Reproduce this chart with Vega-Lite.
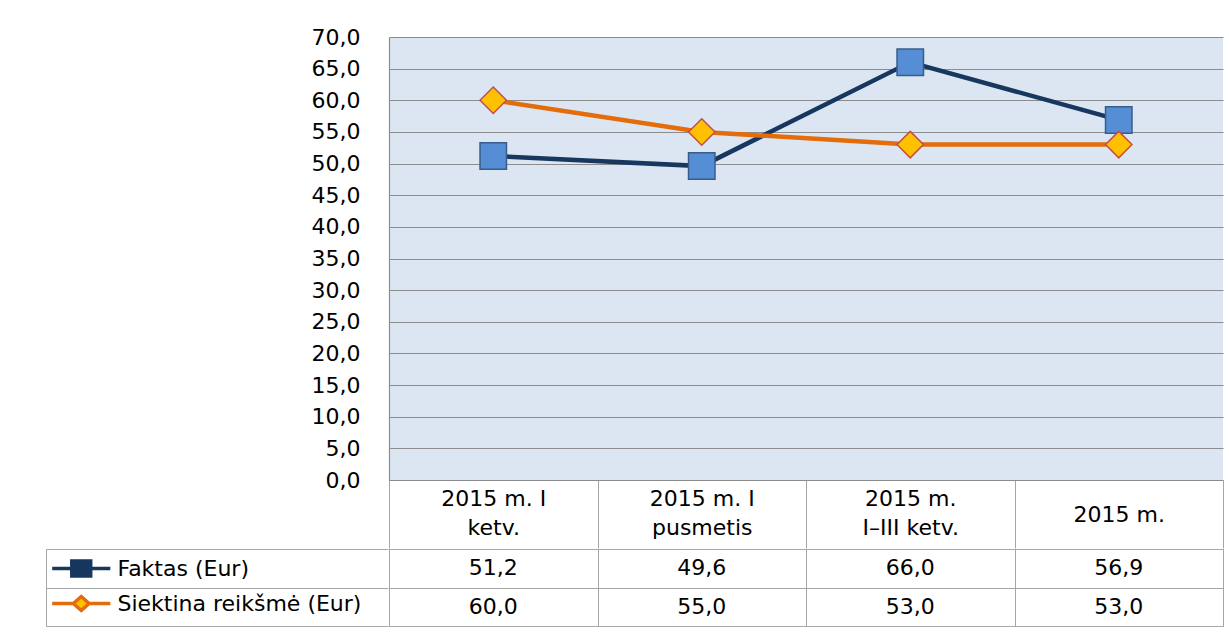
{
  "$schema": "https://vega.github.io/schema/vega-lite/v6.json",
  "background": "white",
  "padding": {"left": 46, "top": 26, "right": 0, "bottom": 0},
  "autosize": {"type": "pad"},
  "config": {
    "font": "DejaVu Sans",
    "locale": {"number": {"decimal": ",", "thousands": " ", "grouping": [3], "currency": ["", " €"]}},
    "view": {"stroke": null},
    "axis": {"labelFont": "DejaVu Sans", "labelFontSize": 22, "labelColor": "#000000"},
    "legend": {"labelFont": "DejaVu Sans", "labelFontSize": 22, "labelColor": "#000000", "labelLimit": 320}
  },
  "data": {"values": [
    {"period": "2015 m. I\nketv.", "series": "Faktas (Eur)", "value": 51.2},
    {"period": "2015 m. I\npusmetis", "series": "Faktas (Eur)", "value": 49.6},
    {"period": "2015 m.\nI–III ketv.", "series": "Faktas (Eur)", "value": 66.0},
    {"period": "2015 m.", "series": "Faktas (Eur)", "value": 56.9},
    {"period": "2015 m. I\nketv.", "series": "Siektina reikšmė (Eur)", "value": 60.0},
    {"period": "2015 m. I\npusmetis", "series": "Siektina reikšmė (Eur)", "value": 55.0},
    {"period": "2015 m.\nI–III ketv.", "series": "Siektina reikšmė (Eur)", "value": 53.0},
    {"period": "2015 m.", "series": "Siektina reikšmė (Eur)", "value": 53.0}
  ]},
  "columns": 2,
  "spacing": {"row": -2, "column": 0},
  "align": "each",
  "resolve": {"scale": {"color": "independent", "fill": "independent", "stroke": "independent", "shape": "independent"}},
  "concat": [
    {
      "width": 342, "height": 443,
      "mark": {"type": "point", "opacity": 0},
      "encoding": {
        "y": {"field": "value", "type": "quantitative", "scale": {"domain": [0, 70], "nice": false, "zero": true},
          "axis": {"orient": "right", "title": null, "values": [0,5,10,15,20,25,30,35,40,45,50,55,60,65,70], "format": ".1f",
            "labelAlign": "right", "labelBaseline": "middle", "labelPadding": -28, "ticks": false, "grid": false, "domain": false}}
      }
    },
    {
      "width": 834, "height": 443,
      "view": {"fill": "#DCE6F2", "stroke": null},
      "encoding": {
        "x": {"field": "period", "type": "nominal", "sort": null,
          "scale": {"type": "band", "paddingInner": 0, "paddingOuter": 0, "domain": ["2015 m. I\nketv.", "2015 m. I\npusmetis", "2015 m.\nI–III ketv.", "2015 m."]},
          "axis": {"title": null, "orient": "bottom", "tickBand": "extent", "tickSize": 68, "tickColor": "#a6a6a6", "tickWidth": 1,
            "domain": true, "domainColor": "#8c8c8c", "labelExpr": "split(datum.label, '\\n')",
            "labelPadding": {"condition": {"test": "indexof(datum.label, '\\n') < 0", "value": -34}, "value": -50},
            "labelBaseline": "middle", "labelLineHeight": 29, "labelLimit": 300, "labelAngle": 0, "grid": false}},
        "y": {"field": "value", "type": "quantitative", "scale": {"domain": [0, 70], "nice": false},
          "axis": {"title": null, "labels": false, "ticks": false, "domain": true, "domainColor": "#8c8c8c", "domainWidth": 1.2,
            "grid": true, "gridColor": "#8c8c8c", "gridWidth": 1.2,
            "values": [0,5,10,15,20,25,30,35,40,45,50,55,60,65,70]}}
      },
      "layer": [
        {"mark": {"type": "line", "strokeWidth": 4.5},
          "encoding": {"color": {"field": "series", "type": "nominal",
            "scale": {"domain": ["Faktas (Eur)", "Siektina reikšmė (Eur)"], "range": ["#17375E", "#E46C0A"]}, "legend": null}}},
        {"mark": {"type": "point", "filled": true, "size": 700, "strokeWidth": 1.5, "opacity": 1},
          "encoding": {
            "shape": {"field": "series", "type": "nominal", "scale": {"domain": ["Faktas (Eur)", "Siektina reikšmė (Eur)"], "range": ["square", "diamond"]}, "legend": null},
            "fill": {"field": "series", "type": "nominal", "scale": {"domain": ["Faktas (Eur)", "Siektina reikšmė (Eur)"], "range": ["#558ED5", "#FFC000"]}, "legend": null},
            "stroke": {"field": "series", "type": "nominal", "scale": {"domain": ["Faktas (Eur)", "Siektina reikšmė (Eur)"], "range": ["#385D8A", "#C0504D"]}, "legend": null}
          }}
      ]
    },
    {
      "width": 342, "height": 77,
      "view": {"stroke": null},
      "mark": {"type": "point", "opacity": 0, "filled": true, "strokeWidth": 3.5},
      "encoding": {
        "y": {"field": "series", "type": "nominal", "scale": {"type": "band", "domain": ["Faktas (Eur)", "Siektina reikšmė (Eur)"], "paddingInner": 0, "paddingOuter": 0},
          "axis": {"title": null, "labels": false, "ticks": false, "domain": true, "domainColor": "#a6a6a6", "grid": true, "tickBand": "extent", "gridColor": "#a6a6a6"}},
        "shape": {"field": "series", "type": "nominal",
          "scale": {"domain": ["Faktas (Eur)", "Siektina reikšmė (Eur)"], "range": ["M-0.76,0H2.56M0.36,-0.43H1.44V0.43H0.36Z", "M-0.76,0H0.45M1.35,0H2.56M0.45,0L0.9,-0.4L1.35,0L0.9,0.4Z"]},
          "legend": {"orient": "top-left", "title": null, "offset": 0, "padding": 0, "rowPadding": 0, "labelOffset": 32.5, "symbolSize": 1225, "symbolStrokeWidth": 3.5, "symbolOpacity": 1, "labelLimit": 320}},
        "fill": {"field": "series", "type": "nominal", "scale": {"domain": ["Faktas (Eur)", "Siektina reikšmė (Eur)"], "range": ["#17375E", "#FFC000"]}},
        "stroke": {"field": "series", "type": "nominal", "scale": {"domain": ["Faktas (Eur)", "Siektina reikšmė (Eur)"], "range": ["#17375E", "#E46C0A"]}}
      }
    },
    {
      "width": 834, "height": 77,
      "view": {"stroke": "#a6a6a6"},
      "mark": {"type": "text", "fontSize": 22, "font": "DejaVu Sans", "color": "#000000", "baseline": "middle"},
      "encoding": {
        "x": {"field": "period", "type": "nominal", "sort": null,
          "scale": {"type": "band", "paddingInner": 0, "paddingOuter": 0, "domain": ["2015 m. I\nketv.", "2015 m. I\npusmetis", "2015 m.\nI–III ketv.", "2015 m."]},
          "axis": {"title": null, "labels": false, "ticks": false, "domain": false, "grid": true, "tickBand": "extent", "gridColor": "#a6a6a6"}},
        "y": {"field": "series", "type": "nominal", "scale": {"type": "band", "domain": ["Faktas (Eur)", "Siektina reikšmė (Eur)"], "paddingInner": 0, "paddingOuter": 0},
          "axis": {"title": null, "labels": false, "ticks": false, "domain": false, "grid": true, "tickBand": "extent", "gridColor": "#a6a6a6"}},
        "text": {"field": "value", "type": "quantitative", "format": ".1f"}
      }
    }
  ]
}
